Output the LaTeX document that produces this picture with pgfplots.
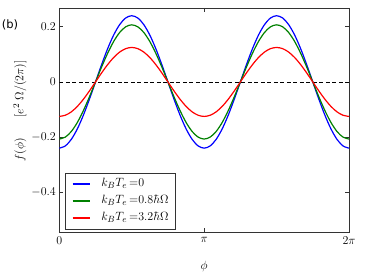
\documentclass[border=0pt]{standalone}
\usepackage{fontspec}
\usepackage{pgfplots}
\usepackage{pgfplotstable}
\pgfplotsset{compat=1.18}
\newfontfamily\djv{DejaVu Sans}
\pgfplotstableread{
k blue green red
0 -0.2400 -0.2070 -0.1250
1 -0.2318 -0.1999 -0.1207
2 -0.2078 -0.1793 -0.1083
3 -0.1697 -0.1464 -0.0884
4 -0.1200 -0.1035 -0.0625
5 -0.0621 -0.0536 -0.0324
6 0 0 0
7 0.0621 0.0536 0.0324
8 0.1200 0.1035 0.0625
9 0.1697 0.1464 0.0884
10 0.2078 0.1793 0.1083
11 0.2318 0.1999 0.1207
12 0.2400 0.2070 0.1250
13 0.2318 0.1999 0.1207
14 0.2078 0.1793 0.1083
15 0.1697 0.1464 0.0884
16 0.1200 0.1035 0.0625
17 0.0621 0.0536 0.0324
18 0 0 0
19 -0.0621 -0.0536 -0.0324
20 -0.1200 -0.1035 -0.0625
21 -0.1697 -0.1464 -0.0884
22 -0.2078 -0.1793 -0.1083
23 -0.2318 -0.1999 -0.1207
24 -0.2400 -0.2070 -0.1250
25 -0.2318 -0.1999 -0.1207
26 -0.2078 -0.1793 -0.1083
27 -0.1697 -0.1464 -0.0884
28 -0.1200 -0.1035 -0.0625
29 -0.0621 -0.0536 -0.0324
30 0 0 0
31 0.0621 0.0536 0.0324
32 0.1200 0.1035 0.0625
33 0.1697 0.1464 0.0884
34 0.2078 0.1793 0.1083
35 0.2318 0.1999 0.1207
36 0.2400 0.2070 0.1250
37 0.2318 0.1999 0.1207
38 0.2078 0.1793 0.1083
39 0.1697 0.1464 0.0884
40 0.1200 0.1035 0.0625
41 0.0621 0.0536 0.0324
42 0 0 0
43 -0.0621 -0.0536 -0.0324
44 -0.1200 -0.1035 -0.0625
45 -0.1697 -0.1464 -0.0884
46 -0.2078 -0.1793 -0.1083
47 -0.2318 -0.1999 -0.1207
48 -0.2400 -0.2070 -0.1250
}\datatable
\definecolor{mgreen}{rgb}{0,0.5,0}
\begin{document}
\begin{tikzpicture}
\begin{axis}[
  name=ax,
  scale only axis,
  width=289.7pt, height=224.3pt,
  xmin=0, xmax=48,
  ymin=-0.545, ymax=0.268,
  xtick={0,24,48},
  xticklabels={$0$,$\pi$,$2\pi$},
  ytick={-0.4,-0.2,0,0.2},
  yticklabels={$-0.4$,$-0.2$,$0$,$0.2$},
  tick align=inside,
  major tick length=4pt,
  axis line style={black!80, line width=0.8pt},
  tick style={black!80, line width=0.6pt},
  tick label style={font=\fontsize{12.5}{15}\selectfont},
  xticklabel style={yshift=-1pt},
  label style={font=\fontsize{12.5}{15}\selectfont},
  xlabel={$\phi$},
  ylabel={$f(\phi)\hspace{21pt}[e^2\;\Omega/(2\pi)]$},
  x label style={at={(axis description cs:0.5,-0.153)}, anchor=center},
  y label style={at={(axis description cs:-0.136,0.541)}, anchor=center},
  legend image code/.code={\draw[#1, line width=1.5pt] (0pt,0pt) -- (17pt,0pt);},
  legend style={at={(axis description cs:0.0186,0.0147)}, anchor=south west,
    draw=black!80, font=\fontsize{12.3}{14}\selectfont,
    inner xsep=7pt, inner ysep=4.5pt,
    legend cell align=left, row sep=4.5pt,
    nodes={inner sep=0pt, text height=9pt, text depth=3.5pt},
    /tikz/every odd column/.append style={column sep=11pt}},
]
\addplot[black, line width=0.6pt, dash pattern=on 4pt off 2.5pt, forget plot] coordinates {(0,0) (48,0)};
\addplot[blue, line width=1.2pt, smooth] table[x=k, y=blue] {\datatable};
\addlegendentry{$k_B T_e\,{=}0$}
\addplot[mgreen, line width=1.2pt, smooth] table[x=k, y=green] {\datatable};
\addlegendentry{$k_B T_e\,{=}0.8\hbar\Omega$}
\addplot[red, line width=1.2pt, smooth] table[x=k, y=red] {\datatable};
\addlegendentry{$k_B T_e\,{=}3.2\hbar\Omega$}
\end{axis}
\node[font=\djv\fontsize{11.5}{13}\selectfont, anchor=center] at ([shift={(-49.3pt,207.3pt)}]ax.south west) {(b)};
\pgfresetboundingbox
\path ([shift={(-59.3pt,-41.7pt)}]ax.south west) rectangle ([shift={(17pt,8pt)}]ax.north east);
\end{tikzpicture}
\end{document}
